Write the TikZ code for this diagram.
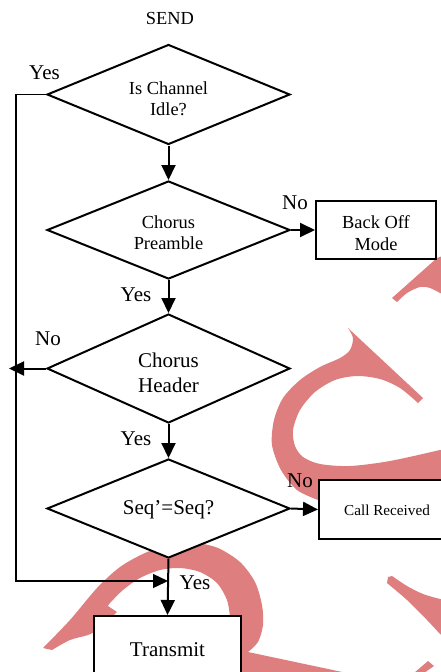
\documentclass[tikz,border=0pt]{standalone}
\usepackage{fontspec}
\setmainfont{Liberation Serif}
\usetikzlibrary{shapes.geometric,arrows.meta}
\definecolor{wmred}{RGB}{222,126,126}
\begin{document}
\begin{tikzpicture}[x=1pt,y=-1pt,
  decision/.style={diamond, draw, line width=2pt, fill=white, minimum width=243pt,
    aspect=2.45, inner sep=0pt},
  box/.style={rectangle, draw, line width=2pt, fill=white, inner sep=0pt},
  flow/.style={line width=2pt, -{Triangle[length=15pt,width=14pt]}},
  loopline/.style={line width=1.4pt, -{Triangle[length=15pt,width=14pt]}},
  big/.style={font=\fontsize{21}{25}\selectfont},
  mid/.style={font=\fontsize{18.4}{21}\selectfont},
  txt/.style={inner sep=0pt, align=center},
  lbl/.style={big, inner sep=0pt}]

\useasboundingbox (0,0) rectangle (440,672);
\fill[white] (0,0) rectangle (440,672);

% ---- watermark letters behind the chart ----
% hook at upper right
\fill[wmred] (392,298) -- (437,258) -- (445,255) -- (445,295)
  -- plot[smooth] coordinates {(440,293) (430,288) (420,287) (407,293) (397,302)} -- cycle;
% large curved letter on the right
\fill[wmred] (348,328) -- (423,398) -- (418,403)
  -- plot[smooth] coordinates {(418,403) (400,388) (380,379) (357,376) (335,380) (315,392)
     (300,410) (293,430) (295,446) (303,457) (320,464) (350,466) (390,461) (440,450)}
  -- (445,450) -- (445,495) -- (330,500)
  -- plot[smooth] coordinates {(318,500) (297,490) (281,470) (272,445) (274,420) (283,398)
     (300,380) (320,367) (340,358) (350,350) (353,338) (348,328)} -- cycle;
% wedge at lower right
\fill[wmred] (388,577)
  -- plot[smooth] coordinates {(392,576) (407,586) (423,594) (440,599)}
  -- (445,600) -- (445,637)
  -- plot[smooth] coordinates {(440,634) (427,620) (407,600) (387,583)} -- cycle;
\fill[wmred] (428,661) -- (434,666) -- (424,673) -- (414,673) -- cycle;
% arch at lower left
\fill[wmred] (43,648)
  -- plot[smooth] coordinates {(43,648) (70,620) (97,588) (120,567) (145,553) (170,545)
     (195,543) (218,548) (240,562) (255,582) (262,605) (263,625) (258,642) (248,652)}
  -- (347,673) -- (241,673) -- (236,620)
  -- plot[smooth] coordinates {(230,617) (227,600) (217,583) (200,572) (180,568) (160,570)
     (140,578) (123,590) (110,603) (108,606)}
  -- (117,612)
  -- plot[smooth] coordinates {(117,612) (97,630) (88,635) (70,640) (52,650)} -- cycle;

% ---- flow chart ----
\node[mid, inner sep=0pt] (send) at (170,18) {SEND};

\node[decision, minimum height=100pt] (idle) at (168.5,94.5) {};
\node[decision, minimum height=98pt] (pre) at (168.5,230) {};
\node[decision, minimum height=109pt] (hdr) at (168.5,368.5) {};
\node[decision, minimum height=99pt] (seq) at (168.5,508.5) {};

\node[txt, mid] (idlet) at (168.5,99) {Is Channel\\Idle?};
\node[txt, mid] (pret) at (168.5,233) {Chorus\\Preamble};
\node[txt, big] (hdrt) at (168.5,373) {Chorus\\Header};
\node[txt, big] (seqt) at (168.5,510) {Seq’=Seq?};

\node[box, minimum width=120pt, minimum height=58pt] (back) at (376,230) {};
\node[txt, font=\fontsize{18.4}{22}\selectfont] (backt) at (376,233) {Back Off\\Mode};
\node[box, minimum width=136pt, minimum height=59pt] (call) at (387,509.5) {};
\node[txt, font=\fontsize{15.2}{18}\selectfont] (callt) at (387,510) {Call Received};
\node[box, minimum width=147pt, minimum height=66pt] (tx) at (167.5,649) {};
\node[txt, big] (txt) at (167.5,649.5) {Transmit};

\coordinate (lt) at (16,94.5);
\coordinate (lb) at (16,581);
\coordinate (join) at (168,581);
\coordinate (noend) at (9,368.5);

\draw[flow] (idle.south) -- (pre.north);
\draw[flow] (pre.east) -- (back.west);
\draw[flow] (pre.south) -- (hdr.north);
\draw[flow] (hdr.west) -- (noend);
\draw[flow] (hdr.south) -- (seq.north);
\draw[flow] (seq.east) -- (call.west);
\draw[flow] (seq.south) -- (tx.north);
\draw[loopline] (idle.west) -- (lt) -- (lb) -- (join);

% branch labels
\node[lbl] (y1) at (44.5,73) {Yes};
\node[lbl] (n2) at (295,203) {No};
\node[lbl] (y2) at (136,295) {Yes};
\node[lbl] (n3) at (48,339) {No};
\node[lbl] (y3) at (136,439) {Yes};
\node[lbl] (n4) at (300,481) {No};
\node[lbl] (y4) at (195,583) {Yes};
\end{tikzpicture}
\end{document}
